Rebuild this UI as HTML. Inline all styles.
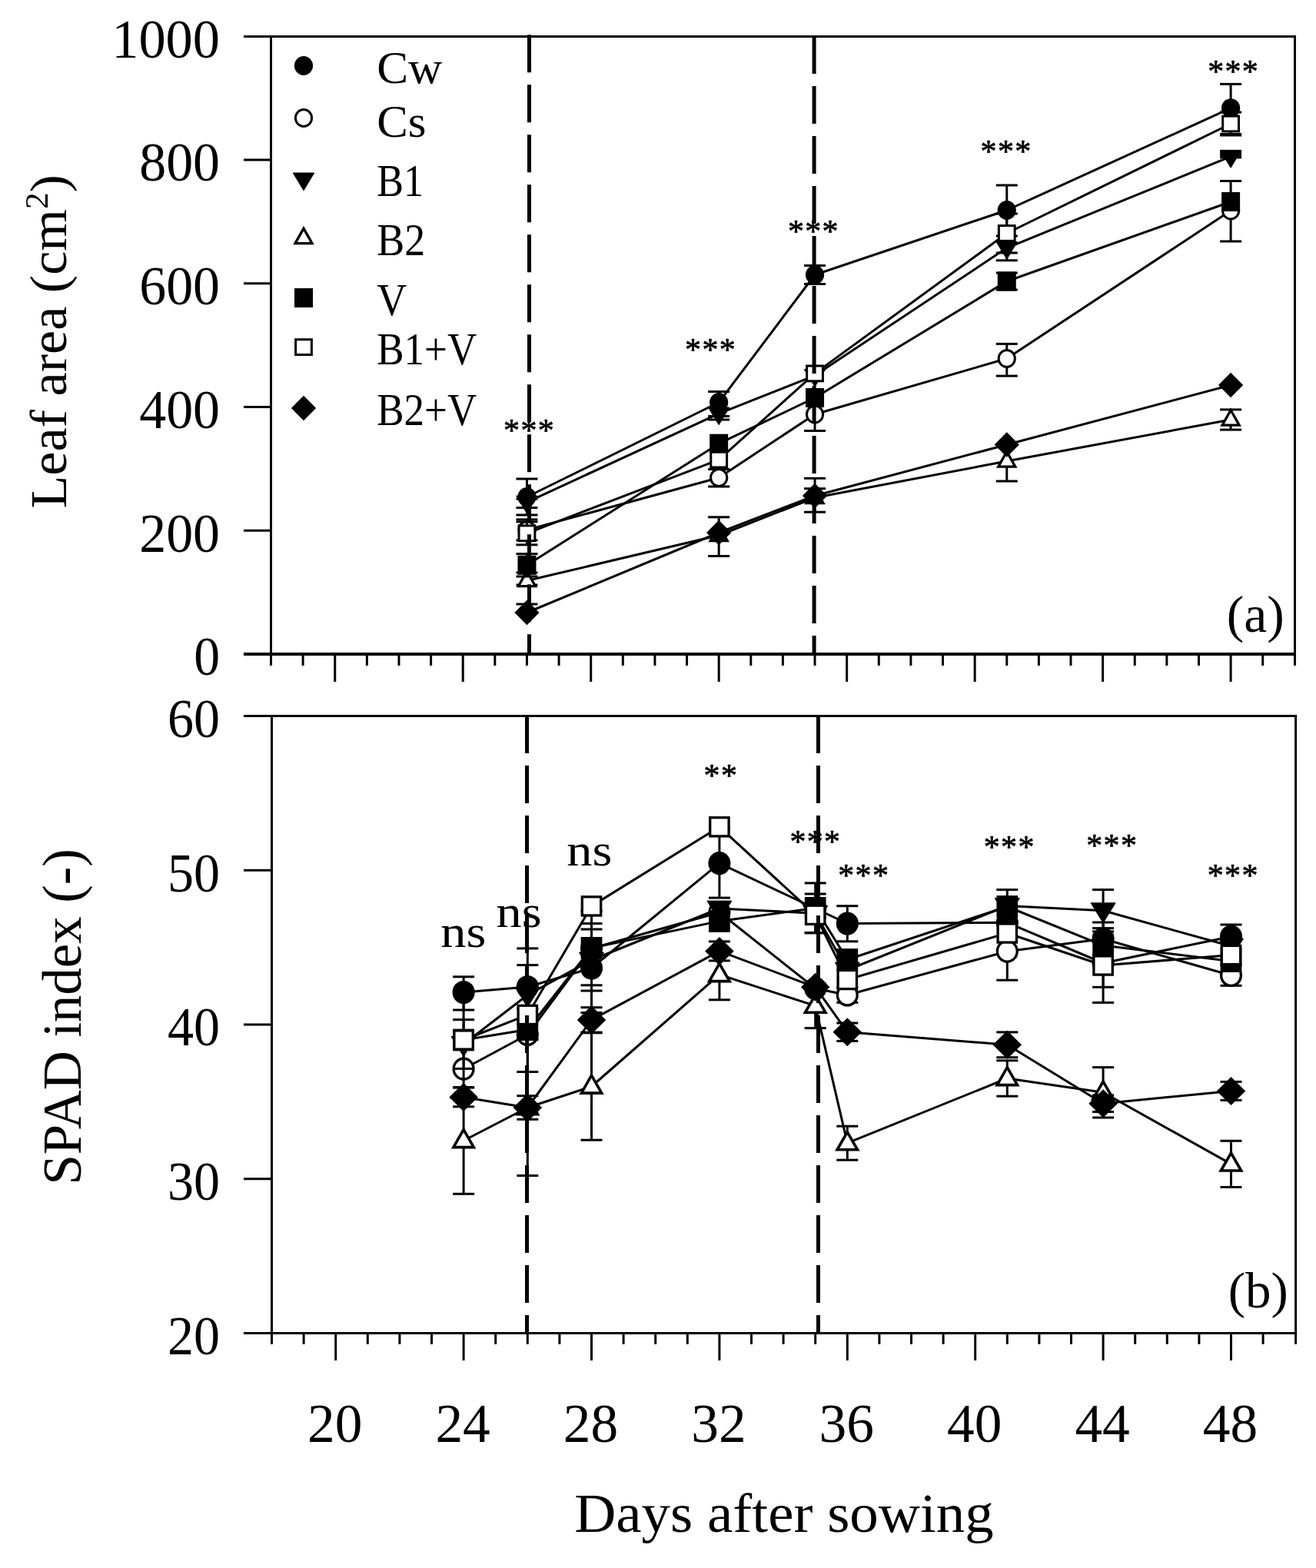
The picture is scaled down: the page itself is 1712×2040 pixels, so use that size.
<!DOCTYPE html>
<html><head><meta charset="utf-8"><title>Leaf area and SPAD index</title>
<style>
html,body{margin:0;padding:0;background:#fff;}
body{width:1712px;height:2040px;overflow:hidden;}
svg{display:block;}
svg text{font-family:"Liberation Serif",serif;fill:#000;}
</style></head><body>
<svg width="1712" height="2040" viewBox="0 0 1712 2040">
<rect width="1712" height="2040" fill="#fff"/>
<line x1="317.00" y1="47.40" x2="1686.00" y2="47.40" stroke="#000" stroke-width="3.0" />
<line x1="352.50" y1="47.40" x2="352.50" y2="851.00" stroke="#000" stroke-width="3.0" />
<line x1="1684.50" y1="47.40" x2="1684.50" y2="866.00" stroke="#000" stroke-width="3.0" />
<line x1="317.00" y1="851.00" x2="1686.00" y2="851.00" stroke="#000" stroke-width="4" />
<line x1="317.00" y1="208.12" x2="352.50" y2="208.12" stroke="#000" stroke-width="3.0" />
<line x1="317.00" y1="368.84" x2="352.50" y2="368.84" stroke="#000" stroke-width="3.0" />
<line x1="317.00" y1="529.56" x2="352.50" y2="529.56" stroke="#000" stroke-width="3.0" />
<line x1="317.00" y1="690.28" x2="352.50" y2="690.28" stroke="#000" stroke-width="3.0" />
<line x1="352.50" y1="851.00" x2="352.50" y2="866.00" stroke="#000" stroke-width="3.0" />
<line x1="394.12" y1="851.00" x2="394.12" y2="866.00" stroke="#000" stroke-width="3.0" />
<line x1="435.74" y1="851.00" x2="435.74" y2="887.00" stroke="#000" stroke-width="3.0" />
<line x1="477.36" y1="851.00" x2="477.36" y2="866.00" stroke="#000" stroke-width="3.0" />
<line x1="518.98" y1="851.00" x2="518.98" y2="866.00" stroke="#000" stroke-width="3.0" />
<line x1="560.60" y1="851.00" x2="560.60" y2="866.00" stroke="#000" stroke-width="3.0" />
<line x1="602.22" y1="851.00" x2="602.22" y2="887.00" stroke="#000" stroke-width="3.0" />
<line x1="643.84" y1="851.00" x2="643.84" y2="866.00" stroke="#000" stroke-width="3.0" />
<line x1="685.46" y1="851.00" x2="685.46" y2="866.00" stroke="#000" stroke-width="3.0" />
<line x1="727.08" y1="851.00" x2="727.08" y2="866.00" stroke="#000" stroke-width="3.0" />
<line x1="768.70" y1="851.00" x2="768.70" y2="887.00" stroke="#000" stroke-width="3.0" />
<line x1="810.32" y1="851.00" x2="810.32" y2="866.00" stroke="#000" stroke-width="3.0" />
<line x1="851.94" y1="851.00" x2="851.94" y2="866.00" stroke="#000" stroke-width="3.0" />
<line x1="893.56" y1="851.00" x2="893.56" y2="866.00" stroke="#000" stroke-width="3.0" />
<line x1="935.18" y1="851.00" x2="935.18" y2="887.00" stroke="#000" stroke-width="3.0" />
<line x1="976.80" y1="851.00" x2="976.80" y2="866.00" stroke="#000" stroke-width="3.0" />
<line x1="1018.42" y1="851.00" x2="1018.42" y2="866.00" stroke="#000" stroke-width="3.0" />
<line x1="1060.04" y1="851.00" x2="1060.04" y2="866.00" stroke="#000" stroke-width="3.0" />
<line x1="1101.66" y1="851.00" x2="1101.66" y2="887.00" stroke="#000" stroke-width="3.0" />
<line x1="1143.28" y1="851.00" x2="1143.28" y2="866.00" stroke="#000" stroke-width="3.0" />
<line x1="1184.90" y1="851.00" x2="1184.90" y2="866.00" stroke="#000" stroke-width="3.0" />
<line x1="1226.52" y1="851.00" x2="1226.52" y2="866.00" stroke="#000" stroke-width="3.0" />
<line x1="1268.14" y1="851.00" x2="1268.14" y2="887.00" stroke="#000" stroke-width="3.0" />
<line x1="1309.76" y1="851.00" x2="1309.76" y2="866.00" stroke="#000" stroke-width="3.0" />
<line x1="1351.38" y1="851.00" x2="1351.38" y2="866.00" stroke="#000" stroke-width="3.0" />
<line x1="1393.00" y1="851.00" x2="1393.00" y2="866.00" stroke="#000" stroke-width="3.0" />
<line x1="1434.62" y1="851.00" x2="1434.62" y2="887.00" stroke="#000" stroke-width="3.0" />
<line x1="1476.24" y1="851.00" x2="1476.24" y2="866.00" stroke="#000" stroke-width="3.0" />
<line x1="1517.86" y1="851.00" x2="1517.86" y2="866.00" stroke="#000" stroke-width="3.0" />
<line x1="1559.48" y1="851.00" x2="1559.48" y2="866.00" stroke="#000" stroke-width="3.0" />
<line x1="1601.10" y1="851.00" x2="1601.10" y2="887.00" stroke="#000" stroke-width="3.0" />
<line x1="1642.72" y1="851.00" x2="1642.72" y2="866.00" stroke="#000" stroke-width="3.0" />
<text transform="translate(286 74.7) scale(0.967 1)" font-size="72.8" text-anchor="end">1000</text>
<text transform="translate(286 235.4) scale(0.96 1)" font-size="72.8" text-anchor="end">800</text>
<text transform="translate(286 396.1) scale(0.96 1)" font-size="72.8" text-anchor="end">600</text>
<text transform="translate(286 556.9) scale(0.96 1)" font-size="72.8" text-anchor="end">400</text>
<text transform="translate(286 717.6) scale(0.96 1)" font-size="72.8" text-anchor="end">200</text>
<text transform="translate(286 878.3) scale(0.93 1)" font-size="72.8" text-anchor="end">0</text>
<polyline points="685.46,646.50 935.18,523.50 1060.04,357.50 1309.76,273.50 1601.10,140.70" fill="none" stroke="#000" stroke-width="3.0" stroke-linejoin="round"/>
<line x1="685.46" y1="646.50" x2="685.46" y2="623.00" stroke="#000" stroke-width="3.0" />
<line x1="671.46" y1="623.00" x2="699.46" y2="623.00" stroke="#000" stroke-width="3.0" />
<line x1="685.46" y1="646.50" x2="685.46" y2="670.00" stroke="#000" stroke-width="3.0" />
<line x1="671.46" y1="670.00" x2="699.46" y2="670.00" stroke="#000" stroke-width="3.0" />
<line x1="935.18" y1="523.50" x2="935.18" y2="509.50" stroke="#000" stroke-width="3.0" />
<line x1="921.18" y1="509.50" x2="949.18" y2="509.50" stroke="#000" stroke-width="3.0" />
<line x1="935.18" y1="523.50" x2="935.18" y2="541.50" stroke="#000" stroke-width="3.0" />
<line x1="921.18" y1="541.50" x2="949.18" y2="541.50" stroke="#000" stroke-width="3.0" />
<line x1="1060.04" y1="357.50" x2="1060.04" y2="345.50" stroke="#000" stroke-width="3.0" />
<line x1="1046.04" y1="345.50" x2="1074.04" y2="345.50" stroke="#000" stroke-width="3.0" />
<line x1="1060.04" y1="357.50" x2="1060.04" y2="369.50" stroke="#000" stroke-width="3.0" />
<line x1="1046.04" y1="369.50" x2="1074.04" y2="369.50" stroke="#000" stroke-width="3.0" />
<line x1="1309.76" y1="273.50" x2="1309.76" y2="241.00" stroke="#000" stroke-width="3.0" />
<line x1="1295.76" y1="241.00" x2="1323.76" y2="241.00" stroke="#000" stroke-width="3.0" />
<line x1="1309.76" y1="273.50" x2="1309.76" y2="307.00" stroke="#000" stroke-width="3.0" />
<line x1="1295.76" y1="307.00" x2="1323.76" y2="307.00" stroke="#000" stroke-width="3.0" />
<line x1="1601.10" y1="140.70" x2="1601.10" y2="109.40" stroke="#000" stroke-width="3.0" />
<line x1="1587.10" y1="109.40" x2="1615.10" y2="109.40" stroke="#000" stroke-width="3.0" />
<line x1="1601.10" y1="140.70" x2="1601.10" y2="174.50" stroke="#000" stroke-width="3.0" />
<line x1="1587.10" y1="174.50" x2="1615.10" y2="174.50" stroke="#000" stroke-width="3.0" />
<ellipse cx="685.46" cy="646.50" rx="12.10" ry="12.50" fill="#000"/>
<ellipse cx="935.18" cy="523.50" rx="12.10" ry="12.50" fill="#000"/>
<ellipse cx="1060.04" cy="357.50" rx="12.10" ry="12.50" fill="#000"/>
<ellipse cx="1309.76" cy="273.50" rx="12.10" ry="12.50" fill="#000"/>
<ellipse cx="1601.10" cy="140.70" rx="12.10" ry="12.50" fill="#000"/>
<polyline points="685.46,689.40 935.18,621.50 1060.04,539.00 1309.76,466.50 1601.10,274.00" fill="none" stroke="#000" stroke-width="3.0" stroke-linejoin="round"/>
<line x1="685.46" y1="689.40" x2="685.46" y2="675.90" stroke="#000" stroke-width="3.0" />
<line x1="671.46" y1="675.90" x2="699.46" y2="675.90" stroke="#000" stroke-width="3.0" />
<line x1="685.46" y1="689.40" x2="685.46" y2="702.90" stroke="#000" stroke-width="3.0" />
<line x1="671.46" y1="702.90" x2="699.46" y2="702.90" stroke="#000" stroke-width="3.0" />
<line x1="935.18" y1="621.50" x2="935.18" y2="610.50" stroke="#000" stroke-width="3.0" />
<line x1="921.18" y1="610.50" x2="949.18" y2="610.50" stroke="#000" stroke-width="3.0" />
<line x1="935.18" y1="621.50" x2="935.18" y2="633.00" stroke="#000" stroke-width="3.0" />
<line x1="921.18" y1="633.00" x2="949.18" y2="633.00" stroke="#000" stroke-width="3.0" />
<line x1="1060.04" y1="539.00" x2="1060.04" y2="560.50" stroke="#000" stroke-width="3.0" />
<line x1="1046.04" y1="560.50" x2="1074.04" y2="560.50" stroke="#000" stroke-width="3.0" />
<line x1="1309.76" y1="466.50" x2="1309.76" y2="447.40" stroke="#000" stroke-width="3.0" />
<line x1="1295.76" y1="447.40" x2="1323.76" y2="447.40" stroke="#000" stroke-width="3.0" />
<line x1="1309.76" y1="466.50" x2="1309.76" y2="489.10" stroke="#000" stroke-width="3.0" />
<line x1="1295.76" y1="489.10" x2="1323.76" y2="489.10" stroke="#000" stroke-width="3.0" />
<line x1="1601.10" y1="274.00" x2="1601.10" y2="314.00" stroke="#000" stroke-width="3.0" />
<line x1="1587.10" y1="314.00" x2="1615.10" y2="314.00" stroke="#000" stroke-width="3.0" />
<ellipse cx="685.46" cy="689.40" rx="10.60" ry="11.00" fill="#fff" stroke="#000" stroke-width="3.0"/>
<ellipse cx="935.18" cy="621.50" rx="10.60" ry="11.00" fill="#fff" stroke="#000" stroke-width="3.0"/>
<ellipse cx="1060.04" cy="539.00" rx="10.60" ry="11.00" fill="#fff" stroke="#000" stroke-width="3.0"/>
<ellipse cx="1309.76" cy="466.50" rx="10.60" ry="11.00" fill="#fff" stroke="#000" stroke-width="3.0"/>
<ellipse cx="1601.10" cy="274.00" rx="10.60" ry="11.00" fill="#fff" stroke="#000" stroke-width="3.0"/>
<polyline points="685.46,653.30 935.18,538.10 1060.04,488.60 1309.76,322.60 1601.10,203.60" fill="none" stroke="#000" stroke-width="3.0" stroke-linejoin="round"/>
<line x1="685.46" y1="653.30" x2="685.46" y2="649.10" stroke="#000" stroke-width="3.0" />
<line x1="671.46" y1="649.10" x2="699.46" y2="649.10" stroke="#000" stroke-width="3.0" />
<line x1="685.46" y1="653.30" x2="685.46" y2="660.60" stroke="#000" stroke-width="3.0" />
<line x1="671.46" y1="660.60" x2="699.46" y2="660.60" stroke="#000" stroke-width="3.0" />
<line x1="935.18" y1="538.10" x2="935.18" y2="546.00" stroke="#000" stroke-width="3.0" />
<line x1="921.18" y1="546.00" x2="949.18" y2="546.00" stroke="#000" stroke-width="3.0" />
<line x1="1309.76" y1="322.60" x2="1309.76" y2="338.80" stroke="#000" stroke-width="3.0" />
<line x1="1295.76" y1="338.80" x2="1323.76" y2="338.80" stroke="#000" stroke-width="3.0" />
<line x1="1601.10" y1="203.60" x2="1601.10" y2="196.40" stroke="#000" stroke-width="3.0" />
<line x1="1587.10" y1="196.40" x2="1615.10" y2="196.40" stroke="#000" stroke-width="3.0" />
<line x1="1601.10" y1="203.60" x2="1601.10" y2="204.90" stroke="#000" stroke-width="3.0" />
<line x1="1587.10" y1="204.90" x2="1615.10" y2="204.90" stroke="#000" stroke-width="3.0" />
<line x1="1587.10" y1="199.40" x2="1615.10" y2="199.40" stroke="#000" stroke-width="3.0" />
<line x1="1587.10" y1="202.20" x2="1615.10" y2="202.20" stroke="#000" stroke-width="3.0" />
<polygon points="671.71,645.20 699.21,645.20 685.46,667.95" fill="#000" stroke="#000" stroke-width="1" stroke-linejoin="round"/>
<polygon points="921.43,530.00 948.93,530.00 935.18,552.75" fill="#000" stroke="#000" stroke-width="1" stroke-linejoin="round"/>
<polygon points="1046.29,480.50 1073.79,480.50 1060.04,503.25" fill="#000" stroke="#000" stroke-width="1" stroke-linejoin="round"/>
<polygon points="1296.01,314.50 1323.51,314.50 1309.76,337.25" fill="#000" stroke="#000" stroke-width="1" stroke-linejoin="round"/>
<polygon points="1587.35,195.50 1614.85,195.50 1601.10,218.25" fill="#000" stroke="#000" stroke-width="1" stroke-linejoin="round"/>
<polyline points="685.46,755.50 935.18,696.50 1060.04,647.50 1309.76,600.00 1601.10,546.00" fill="none" stroke="#000" stroke-width="3.0" stroke-linejoin="round"/>
<line x1="685.46" y1="755.50" x2="685.46" y2="745.00" stroke="#000" stroke-width="3.0" />
<line x1="671.46" y1="745.00" x2="699.46" y2="745.00" stroke="#000" stroke-width="3.0" />
<line x1="685.46" y1="755.50" x2="685.46" y2="761.00" stroke="#000" stroke-width="3.0" />
<line x1="671.46" y1="761.00" x2="699.46" y2="761.00" stroke="#000" stroke-width="3.0" />
<line x1="935.18" y1="696.50" x2="935.18" y2="723.50" stroke="#000" stroke-width="3.0" />
<line x1="921.18" y1="723.50" x2="949.18" y2="723.50" stroke="#000" stroke-width="3.0" />
<line x1="1060.04" y1="647.50" x2="1060.04" y2="635.70" stroke="#000" stroke-width="3.0" />
<line x1="1046.04" y1="635.70" x2="1074.04" y2="635.70" stroke="#000" stroke-width="3.0" />
<line x1="1309.76" y1="600.00" x2="1309.76" y2="626.00" stroke="#000" stroke-width="3.0" />
<line x1="1295.76" y1="626.00" x2="1323.76" y2="626.00" stroke="#000" stroke-width="3.0" />
<line x1="1601.10" y1="546.00" x2="1601.10" y2="532.90" stroke="#000" stroke-width="3.0" />
<line x1="1587.10" y1="532.90" x2="1615.10" y2="532.90" stroke="#000" stroke-width="3.0" />
<line x1="1601.10" y1="546.00" x2="1601.10" y2="559.10" stroke="#000" stroke-width="3.0" />
<line x1="1587.10" y1="559.10" x2="1615.10" y2="559.10" stroke="#000" stroke-width="3.0" />
<polygon points="674.46,762.60 696.46,762.60 685.46,743.00" fill="#fff" stroke="#000" stroke-width="3.3" stroke-linejoin="miter"/>
<polygon points="924.18,703.60 946.18,703.60 935.18,684.00" fill="#fff" stroke="#000" stroke-width="3.3" stroke-linejoin="miter"/>
<polygon points="1049.04,654.60 1071.04,654.60 1060.04,635.00" fill="#fff" stroke="#000" stroke-width="3.3" stroke-linejoin="miter"/>
<polygon points="1298.76,607.10 1320.76,607.10 1309.76,587.50" fill="#fff" stroke="#000" stroke-width="3.3" stroke-linejoin="miter"/>
<polygon points="1590.10,553.10 1612.10,553.10 1601.10,533.50" fill="#fff" stroke="#000" stroke-width="3.3" stroke-linejoin="miter"/>
<polyline points="685.46,735.30 935.18,577.20 1060.04,517.50 1309.76,366.00 1601.10,262.50" fill="none" stroke="#000" stroke-width="3.0" stroke-linejoin="round"/>
<line x1="685.46" y1="735.30" x2="685.46" y2="720.60" stroke="#000" stroke-width="3.0" />
<line x1="671.46" y1="720.60" x2="699.46" y2="720.60" stroke="#000" stroke-width="3.0" />
<line x1="685.46" y1="735.30" x2="685.46" y2="750.00" stroke="#000" stroke-width="3.0" />
<line x1="671.46" y1="750.00" x2="699.46" y2="750.00" stroke="#000" stroke-width="3.0" />
<line x1="1309.76" y1="366.00" x2="1309.76" y2="355.00" stroke="#000" stroke-width="3.0" />
<line x1="1295.76" y1="355.00" x2="1323.76" y2="355.00" stroke="#000" stroke-width="3.0" />
<line x1="1309.76" y1="366.00" x2="1309.76" y2="377.00" stroke="#000" stroke-width="3.0" />
<line x1="1295.76" y1="377.00" x2="1323.76" y2="377.00" stroke="#000" stroke-width="3.0" />
<line x1="1601.10" y1="262.50" x2="1601.10" y2="235.50" stroke="#000" stroke-width="3.0" />
<line x1="1587.10" y1="235.50" x2="1615.10" y2="235.50" stroke="#000" stroke-width="3.0" />
<rect x="673.46" y="722.80" width="24.00" height="25.00" fill="#000"/>
<rect x="923.18" y="564.70" width="24.00" height="25.00" fill="#000"/>
<rect x="1048.04" y="505.00" width="24.00" height="25.00" fill="#000"/>
<rect x="1297.76" y="353.50" width="24.00" height="25.00" fill="#000"/>
<rect x="1589.10" y="250.00" width="24.00" height="25.00" fill="#000"/>
<polyline points="685.46,693.80 935.18,598.10 1060.04,485.90 1309.76,303.50 1601.10,161.00" fill="none" stroke="#000" stroke-width="3.0" stroke-linejoin="round"/>
<line x1="685.46" y1="693.80" x2="685.46" y2="678.80" stroke="#000" stroke-width="3.0" />
<line x1="671.46" y1="678.80" x2="699.46" y2="678.80" stroke="#000" stroke-width="3.0" />
<line x1="685.46" y1="693.80" x2="685.46" y2="708.80" stroke="#000" stroke-width="3.0" />
<line x1="671.46" y1="708.80" x2="699.46" y2="708.80" stroke="#000" stroke-width="3.0" />
<line x1="1309.76" y1="303.50" x2="1309.76" y2="278.00" stroke="#000" stroke-width="3.0" />
<line x1="1295.76" y1="278.00" x2="1323.76" y2="278.00" stroke="#000" stroke-width="3.0" />
<line x1="1309.76" y1="303.50" x2="1309.76" y2="329.00" stroke="#000" stroke-width="3.0" />
<line x1="1295.76" y1="329.00" x2="1323.76" y2="329.00" stroke="#000" stroke-width="3.0" />
<line x1="1601.10" y1="161.00" x2="1601.10" y2="146.00" stroke="#000" stroke-width="3.0" />
<line x1="1587.10" y1="146.00" x2="1615.10" y2="146.00" stroke="#000" stroke-width="3.0" />
<line x1="1601.10" y1="161.00" x2="1601.10" y2="176.00" stroke="#000" stroke-width="3.0" />
<line x1="1587.10" y1="176.00" x2="1615.10" y2="176.00" stroke="#000" stroke-width="3.0" />
<rect x="675.06" y="683.90" width="20.80" height="19.80" fill="#fff" stroke="#000" stroke-width="3.0"/>
<rect x="924.78" y="588.20" width="20.80" height="19.80" fill="#fff" stroke="#000" stroke-width="3.0"/>
<rect x="1049.64" y="476.00" width="20.80" height="19.80" fill="#fff" stroke="#000" stroke-width="3.0"/>
<rect x="1299.36" y="293.60" width="20.80" height="19.80" fill="#fff" stroke="#000" stroke-width="3.0"/>
<rect x="1590.70" y="151.10" width="20.80" height="19.80" fill="#fff" stroke="#000" stroke-width="3.0"/>
<polyline points="685.46,797.00 935.18,693.00 1060.04,645.00 1309.76,578.50 1601.10,501.00" fill="none" stroke="#000" stroke-width="3.0" stroke-linejoin="round"/>
<line x1="685.46" y1="797.00" x2="685.46" y2="786.00" stroke="#000" stroke-width="3.0" />
<line x1="671.46" y1="786.00" x2="699.46" y2="786.00" stroke="#000" stroke-width="3.0" />
<line x1="935.18" y1="693.00" x2="935.18" y2="672.80" stroke="#000" stroke-width="3.0" />
<line x1="921.18" y1="672.80" x2="949.18" y2="672.80" stroke="#000" stroke-width="3.0" />
<line x1="1060.04" y1="645.00" x2="1060.04" y2="622.30" stroke="#000" stroke-width="3.0" />
<line x1="1046.04" y1="622.30" x2="1074.04" y2="622.30" stroke="#000" stroke-width="3.0" />
<line x1="1060.04" y1="645.00" x2="1060.04" y2="666.20" stroke="#000" stroke-width="3.0" />
<line x1="1046.04" y1="666.20" x2="1074.04" y2="666.20" stroke="#000" stroke-width="3.0" />
<polygon points="669.36,797.00 685.46,780.75 701.56,797.00 685.46,813.25" fill="#000"/>
<polygon points="919.08,693.00 935.18,676.75 951.28,693.00 935.18,709.25" fill="#000"/>
<polygon points="1043.94,645.00 1060.04,628.75 1076.14,645.00 1060.04,661.25" fill="#000"/>
<polygon points="1293.66,578.50 1309.76,562.25 1325.86,578.50 1309.76,594.75" fill="#000"/>
<polygon points="1585.00,501.00 1601.10,484.75 1617.20,501.00 1601.10,517.25" fill="#000"/>
<line x1="688.5" y1="45.2" x2="688.5" y2="851.0" stroke="#000" stroke-width="5" stroke-dasharray="49 16"/>
<line x1="1059.1" y1="47.1" x2="1059.1" y2="851.0" stroke="#000" stroke-width="5" stroke-dasharray="49 16"/>
<text transform="translate(655.1 574.1)" font-size="42" letter-spacing="1.3" stroke="#000" stroke-width="0.7" stroke-linejoin="round">***</text>
<text transform="translate(891.1 468.9)" font-size="42" letter-spacing="1.3" stroke="#000" stroke-width="0.7" stroke-linejoin="round">***</text>
<text transform="translate(1025.0 314.9)" font-size="42" letter-spacing="1.3" stroke="#000" stroke-width="0.7" stroke-linejoin="round">***</text>
<text transform="translate(1275.6 210.6)" font-size="42" letter-spacing="1.3" stroke="#000" stroke-width="0.7" stroke-linejoin="round">***</text>
<text transform="translate(1571.2 106.8)" font-size="42" letter-spacing="1.3" stroke="#000" stroke-width="0.7" stroke-linejoin="round">***</text>
<text transform="translate(1595.8 822) scale(1.005 1)" font-size="67.3">(a)</text>
<ellipse cx="395.00" cy="85.50" rx="12.10" ry="12.50" fill="#000"/>
<text transform="translate(490.2 108.4) scale(1.0313 1)" font-size="59.5">Cw</text>
<ellipse cx="395.00" cy="153.50" rx="10.60" ry="11.00" fill="#fff" stroke="#000" stroke-width="3.0"/>
<text transform="translate(490.2 178.0) scale(1.0216 1)" font-size="59.5">Cs</text>
<polygon points="381.25,225.00 408.75,225.00 395.00,247.75" fill="#000" stroke="#000" stroke-width="1" stroke-linejoin="round"/>
<text transform="translate(490.2 255) scale(0.8773 1)" font-size="59.5">B1</text>
<polygon points="384.00,316.70 406.00,316.70 395.00,297.10" fill="#fff" stroke="#000" stroke-width="3.3" stroke-linejoin="miter"/>
<text transform="translate(490.2 331.8) scale(0.9066 1)" font-size="59.5">B2</text>
<rect x="383.00" y="375.00" width="24.00" height="25.00" fill="#000"/>
<text transform="translate(490.2 410) scale(0.9066 1)" font-size="59.5">V</text>
<rect x="384.60" y="441.70" width="20.80" height="19.80" fill="#fff" stroke="#000" stroke-width="3.0"/>
<text transform="translate(490.2 474.2) scale(0.891 1)" font-size="59.5">B1+V</text>
<polygon points="378.90,531.00 395.00,514.75 411.10,531.00 395.00,547.25" fill="#000"/>
<text transform="translate(490.2 552.6) scale(0.891 1)" font-size="59.5">B2+V</text>
<line x1="317.00" y1="931.40" x2="1687.10" y2="931.40" stroke="#000" stroke-width="3.0" />
<line x1="353.50" y1="931.40" x2="353.50" y2="1734.50" stroke="#000" stroke-width="3.0" />
<line x1="1685.60" y1="931.40" x2="1685.60" y2="1748.80" stroke="#000" stroke-width="3.0" />
<line x1="317.00" y1="1734.50" x2="1687.10" y2="1734.50" stroke="#000" stroke-width="3.2" />
<line x1="317.00" y1="1132.17" x2="353.50" y2="1132.17" stroke="#000" stroke-width="3.0" />
<line x1="317.00" y1="1332.95" x2="353.50" y2="1332.95" stroke="#000" stroke-width="3.0" />
<line x1="317.00" y1="1533.72" x2="353.50" y2="1533.72" stroke="#000" stroke-width="3.0" />
<line x1="353.50" y1="1734.50" x2="353.50" y2="1748.80" stroke="#000" stroke-width="3.0" />
<line x1="395.10" y1="1734.50" x2="395.10" y2="1748.80" stroke="#000" stroke-width="3.0" />
<line x1="436.70" y1="1734.50" x2="436.70" y2="1770.00" stroke="#000" stroke-width="3.0" />
<line x1="478.30" y1="1734.50" x2="478.30" y2="1748.80" stroke="#000" stroke-width="3.0" />
<line x1="519.90" y1="1734.50" x2="519.90" y2="1748.80" stroke="#000" stroke-width="3.0" />
<line x1="561.50" y1="1734.50" x2="561.50" y2="1748.80" stroke="#000" stroke-width="3.0" />
<line x1="603.10" y1="1734.50" x2="603.10" y2="1770.00" stroke="#000" stroke-width="3.0" />
<line x1="644.70" y1="1734.50" x2="644.70" y2="1748.80" stroke="#000" stroke-width="3.0" />
<line x1="686.30" y1="1734.50" x2="686.30" y2="1748.80" stroke="#000" stroke-width="3.0" />
<line x1="727.90" y1="1734.50" x2="727.90" y2="1748.80" stroke="#000" stroke-width="3.0" />
<line x1="769.50" y1="1734.50" x2="769.50" y2="1770.00" stroke="#000" stroke-width="3.0" />
<line x1="811.10" y1="1734.50" x2="811.10" y2="1748.80" stroke="#000" stroke-width="3.0" />
<line x1="852.70" y1="1734.50" x2="852.70" y2="1748.80" stroke="#000" stroke-width="3.0" />
<line x1="894.30" y1="1734.50" x2="894.30" y2="1748.80" stroke="#000" stroke-width="3.0" />
<line x1="935.90" y1="1734.50" x2="935.90" y2="1770.00" stroke="#000" stroke-width="3.0" />
<line x1="977.50" y1="1734.50" x2="977.50" y2="1748.80" stroke="#000" stroke-width="3.0" />
<line x1="1019.10" y1="1734.50" x2="1019.10" y2="1748.80" stroke="#000" stroke-width="3.0" />
<line x1="1060.70" y1="1734.50" x2="1060.70" y2="1748.80" stroke="#000" stroke-width="3.0" />
<line x1="1102.30" y1="1734.50" x2="1102.30" y2="1770.00" stroke="#000" stroke-width="3.0" />
<line x1="1143.90" y1="1734.50" x2="1143.90" y2="1748.80" stroke="#000" stroke-width="3.0" />
<line x1="1185.50" y1="1734.50" x2="1185.50" y2="1748.80" stroke="#000" stroke-width="3.0" />
<line x1="1227.10" y1="1734.50" x2="1227.10" y2="1748.80" stroke="#000" stroke-width="3.0" />
<line x1="1268.70" y1="1734.50" x2="1268.70" y2="1770.00" stroke="#000" stroke-width="3.0" />
<line x1="1310.30" y1="1734.50" x2="1310.30" y2="1748.80" stroke="#000" stroke-width="3.0" />
<line x1="1351.90" y1="1734.50" x2="1351.90" y2="1748.80" stroke="#000" stroke-width="3.0" />
<line x1="1393.50" y1="1734.50" x2="1393.50" y2="1748.80" stroke="#000" stroke-width="3.0" />
<line x1="1435.10" y1="1734.50" x2="1435.10" y2="1770.00" stroke="#000" stroke-width="3.0" />
<line x1="1476.70" y1="1734.50" x2="1476.70" y2="1748.80" stroke="#000" stroke-width="3.0" />
<line x1="1518.30" y1="1734.50" x2="1518.30" y2="1748.80" stroke="#000" stroke-width="3.0" />
<line x1="1559.90" y1="1734.50" x2="1559.90" y2="1748.80" stroke="#000" stroke-width="3.0" />
<line x1="1601.50" y1="1734.50" x2="1601.50" y2="1770.00" stroke="#000" stroke-width="3.0" />
<line x1="1643.10" y1="1734.50" x2="1643.10" y2="1748.80" stroke="#000" stroke-width="3.0" />
<text transform="translate(286 958.7) scale(0.935 1)" font-size="72.8" text-anchor="end">60</text>
<text transform="translate(286 1159.5) scale(0.935 1)" font-size="72.8" text-anchor="end">50</text>
<text transform="translate(286 1360.2) scale(0.935 1)" font-size="72.8" text-anchor="end">40</text>
<text transform="translate(286 1561.0) scale(0.935 1)" font-size="72.8" text-anchor="end">30</text>
<text transform="translate(286 1761.8) scale(0.935 1)" font-size="72.8" text-anchor="end">20</text>
<polyline points="603.10,1291.00 686.30,1284.00 769.50,1259.50 935.90,1123.10 1060.70,1182.00 1102.30,1201.50 1310.30,1200.30 1435.10,1253.00 1601.50,1218.50" fill="none" stroke="#000" stroke-width="3.0" stroke-linejoin="round"/>
<line x1="603.10" y1="1291.00" x2="603.10" y2="1270.80" stroke="#000" stroke-width="3.0" />
<line x1="589.10" y1="1270.80" x2="617.10" y2="1270.80" stroke="#000" stroke-width="3.0" />
<line x1="603.10" y1="1291.00" x2="603.10" y2="1314.00" stroke="#000" stroke-width="3.0" />
<line x1="589.10" y1="1314.00" x2="617.10" y2="1314.00" stroke="#000" stroke-width="3.0" />
<line x1="686.30" y1="1284.00" x2="686.30" y2="1255.60" stroke="#000" stroke-width="3.0" />
<line x1="672.30" y1="1255.60" x2="700.30" y2="1255.60" stroke="#000" stroke-width="3.0" />
<line x1="686.30" y1="1284.00" x2="686.30" y2="1312.40" stroke="#000" stroke-width="3.0" />
<line x1="672.30" y1="1312.40" x2="700.30" y2="1312.40" stroke="#000" stroke-width="3.0" />
<line x1="769.50" y1="1259.50" x2="769.50" y2="1201.50" stroke="#000" stroke-width="3.0" />
<line x1="755.50" y1="1201.50" x2="783.50" y2="1201.50" stroke="#000" stroke-width="3.0" />
<line x1="769.50" y1="1259.50" x2="769.50" y2="1317.50" stroke="#000" stroke-width="3.0" />
<line x1="755.50" y1="1317.50" x2="783.50" y2="1317.50" stroke="#000" stroke-width="3.0" />
<line x1="935.90" y1="1123.10" x2="935.90" y2="1078.10" stroke="#000" stroke-width="3.0" />
<line x1="921.90" y1="1078.10" x2="949.90" y2="1078.10" stroke="#000" stroke-width="3.0" />
<line x1="935.90" y1="1123.10" x2="935.90" y2="1168.10" stroke="#000" stroke-width="3.0" />
<line x1="921.90" y1="1168.10" x2="949.90" y2="1168.10" stroke="#000" stroke-width="3.0" />
<line x1="1102.30" y1="1201.50" x2="1102.30" y2="1178.70" stroke="#000" stroke-width="3.0" />
<line x1="1088.30" y1="1178.70" x2="1116.30" y2="1178.70" stroke="#000" stroke-width="3.0" />
<line x1="1102.30" y1="1201.50" x2="1102.30" y2="1224.80" stroke="#000" stroke-width="3.0" />
<line x1="1088.30" y1="1224.80" x2="1116.30" y2="1224.80" stroke="#000" stroke-width="3.0" />
<line x1="1435.10" y1="1253.00" x2="1435.10" y2="1221.70" stroke="#000" stroke-width="3.0" />
<line x1="1421.10" y1="1221.70" x2="1449.10" y2="1221.70" stroke="#000" stroke-width="3.0" />
<line x1="1435.10" y1="1253.00" x2="1435.10" y2="1284.30" stroke="#000" stroke-width="3.0" />
<line x1="1421.10" y1="1284.30" x2="1449.10" y2="1284.30" stroke="#000" stroke-width="3.0" />
<line x1="1601.50" y1="1218.50" x2="1601.50" y2="1203.00" stroke="#000" stroke-width="3.0" />
<line x1="1587.50" y1="1203.00" x2="1615.50" y2="1203.00" stroke="#000" stroke-width="3.0" />
<line x1="1601.50" y1="1218.50" x2="1601.50" y2="1234.00" stroke="#000" stroke-width="3.0" />
<line x1="1587.50" y1="1234.00" x2="1615.50" y2="1234.00" stroke="#000" stroke-width="3.0" />
<ellipse cx="603.10" cy="1291.00" rx="14.55" ry="15.10" fill="#000"/>
<ellipse cx="686.30" cy="1284.00" rx="14.55" ry="15.10" fill="#000"/>
<ellipse cx="769.50" cy="1259.50" rx="14.55" ry="15.10" fill="#000"/>
<ellipse cx="935.90" cy="1123.10" rx="14.55" ry="15.10" fill="#000"/>
<ellipse cx="1060.70" cy="1182.00" rx="14.55" ry="15.10" fill="#000"/>
<ellipse cx="1102.30" cy="1201.50" rx="14.55" ry="15.10" fill="#000"/>
<ellipse cx="1310.30" cy="1200.30" rx="14.55" ry="15.10" fill="#000"/>
<ellipse cx="1435.10" cy="1253.00" rx="14.55" ry="15.10" fill="#000"/>
<ellipse cx="1601.50" cy="1218.50" rx="14.55" ry="15.10" fill="#000"/>
<polyline points="603.10,1390.70 686.30,1346.00 769.50,1234.00 935.90,1187.00 1060.70,1286.00 1102.30,1294.50 1310.30,1237.70 1435.10,1221.50 1601.50,1269.00" fill="none" stroke="#000" stroke-width="3.0" stroke-linejoin="round"/>
<line x1="1102.30" y1="1294.50" x2="1102.30" y2="1284.70" stroke="#000" stroke-width="3.0" />
<line x1="1088.30" y1="1284.70" x2="1116.30" y2="1284.70" stroke="#000" stroke-width="3.0" />
<line x1="1102.30" y1="1294.50" x2="1102.30" y2="1304.30" stroke="#000" stroke-width="3.0" />
<line x1="1088.30" y1="1304.30" x2="1116.30" y2="1304.30" stroke="#000" stroke-width="3.0" />
<line x1="1310.30" y1="1237.70" x2="1310.30" y2="1200.20" stroke="#000" stroke-width="3.0" />
<line x1="1296.30" y1="1200.20" x2="1324.30" y2="1200.20" stroke="#000" stroke-width="3.0" />
<line x1="1310.30" y1="1237.70" x2="1310.30" y2="1275.20" stroke="#000" stroke-width="3.0" />
<line x1="1296.30" y1="1275.20" x2="1324.30" y2="1275.20" stroke="#000" stroke-width="3.0" />
<line x1="1435.10" y1="1221.50" x2="1435.10" y2="1200.00" stroke="#000" stroke-width="3.0" />
<line x1="1421.10" y1="1200.00" x2="1449.10" y2="1200.00" stroke="#000" stroke-width="3.0" />
<line x1="1435.10" y1="1221.50" x2="1435.10" y2="1243.00" stroke="#000" stroke-width="3.0" />
<line x1="1421.10" y1="1243.00" x2="1449.10" y2="1243.00" stroke="#000" stroke-width="3.0" />
<line x1="1601.50" y1="1269.00" x2="1601.50" y2="1255.70" stroke="#000" stroke-width="3.0" />
<line x1="1587.50" y1="1255.70" x2="1615.50" y2="1255.70" stroke="#000" stroke-width="3.0" />
<line x1="1601.50" y1="1269.00" x2="1601.50" y2="1282.30" stroke="#000" stroke-width="3.0" />
<line x1="1587.50" y1="1282.30" x2="1615.50" y2="1282.30" stroke="#000" stroke-width="3.0" />
<ellipse cx="603.10" cy="1390.70" rx="12.90" ry="13.45" fill="#fff" stroke="#000" stroke-width="3.3"/>
<ellipse cx="686.30" cy="1346.00" rx="12.90" ry="13.45" fill="#fff" stroke="#000" stroke-width="3.3"/>
<ellipse cx="769.50" cy="1234.00" rx="12.90" ry="13.45" fill="#fff" stroke="#000" stroke-width="3.3"/>
<ellipse cx="935.90" cy="1187.00" rx="12.90" ry="13.45" fill="#fff" stroke="#000" stroke-width="3.3"/>
<ellipse cx="1060.70" cy="1286.00" rx="12.90" ry="13.45" fill="#fff" stroke="#000" stroke-width="3.3"/>
<ellipse cx="1102.30" cy="1294.50" rx="12.90" ry="13.45" fill="#fff" stroke="#000" stroke-width="3.3"/>
<ellipse cx="1310.30" cy="1237.70" rx="12.90" ry="13.45" fill="#fff" stroke="#000" stroke-width="3.3"/>
<ellipse cx="1435.10" cy="1221.50" rx="14.55" ry="15.10" fill="#000"/>
<ellipse cx="1601.50" cy="1269.00" rx="12.90" ry="13.45" fill="#fff" stroke="#000" stroke-width="3.3"/>
<polyline points="603.10,1358.50 686.30,1294.50 769.50,1249.00 935.90,1182.00 1060.70,1188.20 1102.30,1262.00 1310.30,1178.50 1435.10,1184.70 1601.50,1231.00" fill="none" stroke="#000" stroke-width="3.0" stroke-linejoin="round"/>
<line x1="603.10" y1="1358.50" x2="603.10" y2="1326.60" stroke="#000" stroke-width="3.0" />
<line x1="589.10" y1="1326.60" x2="617.10" y2="1326.60" stroke="#000" stroke-width="3.0" />
<line x1="603.10" y1="1358.50" x2="603.10" y2="1390.40" stroke="#000" stroke-width="3.0" />
<line x1="589.10" y1="1390.40" x2="617.10" y2="1390.40" stroke="#000" stroke-width="3.0" />
<line x1="686.30" y1="1294.50" x2="686.30" y2="1233.90" stroke="#000" stroke-width="3.0" />
<line x1="672.30" y1="1233.90" x2="700.30" y2="1233.90" stroke="#000" stroke-width="3.0" />
<line x1="686.30" y1="1294.50" x2="686.30" y2="1352.50" stroke="#000" stroke-width="3.0" />
<line x1="672.30" y1="1352.50" x2="700.30" y2="1352.50" stroke="#000" stroke-width="3.0" />
<line x1="769.50" y1="1249.00" x2="769.50" y2="1209.00" stroke="#000" stroke-width="3.0" />
<line x1="755.50" y1="1209.00" x2="783.50" y2="1209.00" stroke="#000" stroke-width="3.0" />
<line x1="769.50" y1="1249.00" x2="769.50" y2="1289.00" stroke="#000" stroke-width="3.0" />
<line x1="755.50" y1="1289.00" x2="783.50" y2="1289.00" stroke="#000" stroke-width="3.0" />
<line x1="1060.70" y1="1188.20" x2="1060.70" y2="1163.00" stroke="#000" stroke-width="3.0" />
<line x1="1046.70" y1="1163.00" x2="1074.70" y2="1163.00" stroke="#000" stroke-width="3.0" />
<line x1="1060.70" y1="1188.20" x2="1060.70" y2="1213.40" stroke="#000" stroke-width="3.0" />
<line x1="1046.70" y1="1213.40" x2="1074.70" y2="1213.40" stroke="#000" stroke-width="3.0" />
<line x1="1310.30" y1="1178.50" x2="1310.30" y2="1157.50" stroke="#000" stroke-width="3.0" />
<line x1="1296.30" y1="1157.50" x2="1324.30" y2="1157.50" stroke="#000" stroke-width="3.0" />
<line x1="1310.30" y1="1178.50" x2="1310.30" y2="1199.50" stroke="#000" stroke-width="3.0" />
<line x1="1296.30" y1="1199.50" x2="1324.30" y2="1199.50" stroke="#000" stroke-width="3.0" />
<line x1="1435.10" y1="1184.70" x2="1435.10" y2="1157.50" stroke="#000" stroke-width="3.0" />
<line x1="1421.10" y1="1157.50" x2="1449.10" y2="1157.50" stroke="#000" stroke-width="3.0" />
<line x1="1435.10" y1="1184.70" x2="1435.10" y2="1211.90" stroke="#000" stroke-width="3.0" />
<line x1="1421.10" y1="1211.90" x2="1449.10" y2="1211.90" stroke="#000" stroke-width="3.0" />
<polygon points="587.10,1348.60 619.10,1348.60 603.10,1374.50" fill="#000" stroke="#000" stroke-width="1" stroke-linejoin="round"/>
<polygon points="670.30,1284.60 702.30,1284.60 686.30,1310.50" fill="#000" stroke="#000" stroke-width="1" stroke-linejoin="round"/>
<polygon points="753.50,1239.10 785.50,1239.10 769.50,1265.00" fill="#000" stroke="#000" stroke-width="1" stroke-linejoin="round"/>
<polygon points="919.90,1172.10 951.90,1172.10 935.90,1198.00" fill="#000" stroke="#000" stroke-width="1" stroke-linejoin="round"/>
<polygon points="1044.70,1178.30 1076.70,1178.30 1060.70,1204.20" fill="#000" stroke="#000" stroke-width="1" stroke-linejoin="round"/>
<polygon points="1086.30,1252.10 1118.30,1252.10 1102.30,1278.00" fill="#000" stroke="#000" stroke-width="1" stroke-linejoin="round"/>
<polygon points="1294.30,1168.60 1326.30,1168.60 1310.30,1194.50" fill="#000" stroke="#000" stroke-width="1" stroke-linejoin="round"/>
<polygon points="1419.10,1174.80 1451.10,1174.80 1435.10,1200.70" fill="#000" stroke="#000" stroke-width="1" stroke-linejoin="round"/>
<polygon points="1585.50,1221.10 1617.50,1221.10 1601.50,1247.00" fill="#000" stroke="#000" stroke-width="1" stroke-linejoin="round"/>
<polyline points="603.10,1484.00 686.30,1441.00 769.50,1413.50 935.90,1268.00 1060.70,1308.60 1102.30,1487.20 1310.30,1403.00 1435.10,1421.30 1601.50,1514.40" fill="none" stroke="#000" stroke-width="3.0" stroke-linejoin="round"/>
<line x1="603.10" y1="1484.00" x2="603.10" y2="1414.70" stroke="#000" stroke-width="3.0" />
<line x1="589.10" y1="1414.70" x2="617.10" y2="1414.70" stroke="#000" stroke-width="3.0" />
<line x1="603.10" y1="1484.00" x2="603.10" y2="1553.30" stroke="#000" stroke-width="3.0" />
<line x1="589.10" y1="1553.30" x2="617.10" y2="1553.30" stroke="#000" stroke-width="3.0" />
<line x1="686.30" y1="1441.00" x2="686.30" y2="1352.50" stroke="#000" stroke-width="3.0" />
<line x1="672.30" y1="1352.50" x2="700.30" y2="1352.50" stroke="#000" stroke-width="3.0" />
<line x1="686.30" y1="1441.00" x2="686.30" y2="1529.50" stroke="#000" stroke-width="3.0" />
<line x1="672.30" y1="1529.50" x2="700.30" y2="1529.50" stroke="#000" stroke-width="3.0" />
<line x1="769.50" y1="1413.50" x2="769.50" y2="1343.80" stroke="#000" stroke-width="3.0" />
<line x1="755.50" y1="1343.80" x2="783.50" y2="1343.80" stroke="#000" stroke-width="3.0" />
<line x1="769.50" y1="1413.50" x2="769.50" y2="1483.20" stroke="#000" stroke-width="3.0" />
<line x1="755.50" y1="1483.20" x2="783.50" y2="1483.20" stroke="#000" stroke-width="3.0" />
<line x1="935.90" y1="1268.00" x2="935.90" y2="1235.20" stroke="#000" stroke-width="3.0" />
<line x1="921.90" y1="1235.20" x2="949.90" y2="1235.20" stroke="#000" stroke-width="3.0" />
<line x1="935.90" y1="1268.00" x2="935.90" y2="1300.80" stroke="#000" stroke-width="3.0" />
<line x1="921.90" y1="1300.80" x2="949.90" y2="1300.80" stroke="#000" stroke-width="3.0" />
<line x1="1060.70" y1="1308.60" x2="1060.70" y2="1279.60" stroke="#000" stroke-width="3.0" />
<line x1="1046.70" y1="1279.60" x2="1074.70" y2="1279.60" stroke="#000" stroke-width="3.0" />
<line x1="1060.70" y1="1308.60" x2="1060.70" y2="1337.60" stroke="#000" stroke-width="3.0" />
<line x1="1046.70" y1="1337.60" x2="1074.70" y2="1337.60" stroke="#000" stroke-width="3.0" />
<line x1="1102.30" y1="1487.20" x2="1102.30" y2="1465.20" stroke="#000" stroke-width="3.0" />
<line x1="1088.30" y1="1465.20" x2="1116.30" y2="1465.20" stroke="#000" stroke-width="3.0" />
<line x1="1102.30" y1="1487.20" x2="1102.30" y2="1509.20" stroke="#000" stroke-width="3.0" />
<line x1="1088.30" y1="1509.20" x2="1116.30" y2="1509.20" stroke="#000" stroke-width="3.0" />
<line x1="1310.30" y1="1403.00" x2="1310.30" y2="1379.80" stroke="#000" stroke-width="3.0" />
<line x1="1296.30" y1="1379.80" x2="1324.30" y2="1379.80" stroke="#000" stroke-width="3.0" />
<line x1="1310.30" y1="1403.00" x2="1310.30" y2="1426.20" stroke="#000" stroke-width="3.0" />
<line x1="1296.30" y1="1426.20" x2="1324.30" y2="1426.20" stroke="#000" stroke-width="3.0" />
<line x1="1435.10" y1="1421.30" x2="1435.10" y2="1388.60" stroke="#000" stroke-width="3.0" />
<line x1="1421.10" y1="1388.60" x2="1449.10" y2="1388.60" stroke="#000" stroke-width="3.0" />
<line x1="1435.10" y1="1421.30" x2="1435.10" y2="1454.00" stroke="#000" stroke-width="3.0" />
<line x1="1421.10" y1="1454.00" x2="1449.10" y2="1454.00" stroke="#000" stroke-width="3.0" />
<line x1="1601.50" y1="1514.40" x2="1601.50" y2="1484.30" stroke="#000" stroke-width="3.0" />
<line x1="1587.50" y1="1484.30" x2="1615.50" y2="1484.30" stroke="#000" stroke-width="3.0" />
<line x1="1601.50" y1="1514.40" x2="1601.50" y2="1544.50" stroke="#000" stroke-width="3.0" />
<line x1="1587.50" y1="1544.50" x2="1615.50" y2="1544.50" stroke="#000" stroke-width="3.0" />
<polygon points="589.90,1492.60 616.30,1492.60 603.10,1469.70" fill="#fff" stroke="#000" stroke-width="3.5999999999999996" stroke-linejoin="miter"/>
<polygon points="673.10,1449.60 699.50,1449.60 686.30,1426.70" fill="#fff" stroke="#000" stroke-width="3.5999999999999996" stroke-linejoin="miter"/>
<polygon points="756.30,1422.10 782.70,1422.10 769.50,1399.20" fill="#fff" stroke="#000" stroke-width="3.5999999999999996" stroke-linejoin="miter"/>
<polygon points="922.70,1276.60 949.10,1276.60 935.90,1253.70" fill="#fff" stroke="#000" stroke-width="3.5999999999999996" stroke-linejoin="miter"/>
<polygon points="1047.50,1317.20 1073.90,1317.20 1060.70,1294.30" fill="#fff" stroke="#000" stroke-width="3.5999999999999996" stroke-linejoin="miter"/>
<polygon points="1089.10,1495.80 1115.50,1495.80 1102.30,1472.90" fill="#fff" stroke="#000" stroke-width="3.5999999999999996" stroke-linejoin="miter"/>
<polygon points="1297.10,1411.60 1323.50,1411.60 1310.30,1388.70" fill="#fff" stroke="#000" stroke-width="3.5999999999999996" stroke-linejoin="miter"/>
<polygon points="1421.90,1429.90 1448.30,1429.90 1435.10,1407.00" fill="#fff" stroke="#000" stroke-width="3.5999999999999996" stroke-linejoin="miter"/>
<polygon points="1588.30,1523.00 1614.70,1523.00 1601.50,1500.10" fill="#fff" stroke="#000" stroke-width="3.5999999999999996" stroke-linejoin="miter"/>
<polyline points="603.10,1353.00 686.30,1339.50 769.50,1233.40 935.90,1198.40 1060.70,1181.40 1102.30,1248.50 1310.30,1179.50 1435.10,1230.10 1601.50,1250.50" fill="none" stroke="#000" stroke-width="3.0" stroke-linejoin="round"/>
<line x1="603.10" y1="1353.00" x2="603.10" y2="1291.50" stroke="#000" stroke-width="3.0" />
<line x1="589.10" y1="1291.50" x2="617.10" y2="1291.50" stroke="#000" stroke-width="3.0" />
<line x1="603.10" y1="1353.00" x2="603.10" y2="1414.50" stroke="#000" stroke-width="3.0" />
<line x1="589.10" y1="1414.50" x2="617.10" y2="1414.50" stroke="#000" stroke-width="3.0" />
<line x1="686.30" y1="1339.50" x2="686.30" y2="1284.50" stroke="#000" stroke-width="3.0" />
<line x1="672.30" y1="1284.50" x2="700.30" y2="1284.50" stroke="#000" stroke-width="3.0" />
<line x1="686.30" y1="1339.50" x2="686.30" y2="1394.50" stroke="#000" stroke-width="3.0" />
<line x1="672.30" y1="1394.50" x2="700.30" y2="1394.50" stroke="#000" stroke-width="3.0" />
<line x1="769.50" y1="1233.40" x2="769.50" y2="1185.00" stroke="#000" stroke-width="3.0" />
<line x1="755.50" y1="1185.00" x2="783.50" y2="1185.00" stroke="#000" stroke-width="3.0" />
<line x1="769.50" y1="1233.40" x2="769.50" y2="1281.80" stroke="#000" stroke-width="3.0" />
<line x1="755.50" y1="1281.80" x2="783.50" y2="1281.80" stroke="#000" stroke-width="3.0" />
<line x1="1060.70" y1="1181.40" x2="1060.70" y2="1148.90" stroke="#000" stroke-width="3.0" />
<line x1="1046.70" y1="1148.90" x2="1074.70" y2="1148.90" stroke="#000" stroke-width="3.0" />
<line x1="1060.70" y1="1181.40" x2="1060.70" y2="1213.90" stroke="#000" stroke-width="3.0" />
<line x1="1046.70" y1="1213.90" x2="1074.70" y2="1213.90" stroke="#000" stroke-width="3.0" />
<rect x="589.25" y="1338.60" width="27.70" height="28.80" fill="#000"/>
<rect x="672.45" y="1325.10" width="27.70" height="28.80" fill="#000"/>
<rect x="755.65" y="1219.00" width="27.70" height="28.80" fill="#000"/>
<rect x="922.05" y="1184.00" width="27.70" height="28.80" fill="#000"/>
<rect x="1046.85" y="1167.00" width="27.70" height="28.80" fill="#000"/>
<rect x="1088.45" y="1234.10" width="27.70" height="28.80" fill="#000"/>
<rect x="1296.45" y="1165.10" width="27.70" height="28.80" fill="#000"/>
<rect x="1421.25" y="1215.70" width="27.70" height="28.80" fill="#000"/>
<rect x="1587.65" y="1236.10" width="27.70" height="28.80" fill="#000"/>
<polyline points="603.10,1353.00 686.30,1320.40 769.50,1178.90 935.90,1075.80 1060.70,1190.30 1102.30,1274.50 1310.30,1214.00 1435.10,1256.00 1601.50,1242.50" fill="none" stroke="#000" stroke-width="3.0" stroke-linejoin="round"/>
<line x1="1435.10" y1="1256.00" x2="1435.10" y2="1207.60" stroke="#000" stroke-width="3.0" />
<line x1="1421.10" y1="1207.60" x2="1449.10" y2="1207.60" stroke="#000" stroke-width="3.0" />
<line x1="1435.10" y1="1256.00" x2="1435.10" y2="1304.40" stroke="#000" stroke-width="3.0" />
<line x1="1421.10" y1="1304.40" x2="1449.10" y2="1304.40" stroke="#000" stroke-width="3.0" />
<rect x="590.90" y="1340.90" width="24.40" height="24.20" fill="#fff" stroke="#000" stroke-width="3.3"/>
<rect x="674.10" y="1308.30" width="24.40" height="24.20" fill="#fff" stroke="#000" stroke-width="3.3"/>
<rect x="757.30" y="1166.80" width="24.40" height="24.20" fill="#fff" stroke="#000" stroke-width="3.3"/>
<rect x="923.70" y="1063.70" width="24.40" height="24.20" fill="#fff" stroke="#000" stroke-width="3.3"/>
<rect x="1048.50" y="1178.20" width="24.40" height="24.20" fill="#fff" stroke="#000" stroke-width="3.3"/>
<rect x="1090.10" y="1262.40" width="24.40" height="24.20" fill="#fff" stroke="#000" stroke-width="3.3"/>
<rect x="1298.10" y="1201.90" width="24.40" height="24.20" fill="#fff" stroke="#000" stroke-width="3.3"/>
<rect x="1422.90" y="1243.90" width="24.40" height="24.20" fill="#fff" stroke="#000" stroke-width="3.3"/>
<rect x="1589.30" y="1230.40" width="24.40" height="24.20" fill="#fff" stroke="#000" stroke-width="3.3"/>
<polyline points="603.10,1427.40 686.30,1441.00 769.50,1326.90 935.90,1237.40 1060.70,1284.30 1102.30,1342.70 1310.30,1359.30 1435.10,1435.70 1601.50,1419.40" fill="none" stroke="#000" stroke-width="3.0" stroke-linejoin="round"/>
<line x1="603.10" y1="1427.40" x2="603.10" y2="1415.00" stroke="#000" stroke-width="3.0" />
<line x1="589.10" y1="1415.00" x2="617.10" y2="1415.00" stroke="#000" stroke-width="3.0" />
<line x1="603.10" y1="1427.40" x2="603.10" y2="1439.80" stroke="#000" stroke-width="3.0" />
<line x1="589.10" y1="1439.80" x2="617.10" y2="1439.80" stroke="#000" stroke-width="3.0" />
<line x1="686.30" y1="1441.00" x2="686.30" y2="1425.70" stroke="#000" stroke-width="3.0" />
<line x1="672.30" y1="1425.70" x2="700.30" y2="1425.70" stroke="#000" stroke-width="3.0" />
<line x1="686.30" y1="1441.00" x2="686.30" y2="1456.30" stroke="#000" stroke-width="3.0" />
<line x1="672.30" y1="1456.30" x2="700.30" y2="1456.30" stroke="#000" stroke-width="3.0" />
<line x1="769.50" y1="1326.90" x2="769.50" y2="1310.70" stroke="#000" stroke-width="3.0" />
<line x1="755.50" y1="1310.70" x2="783.50" y2="1310.70" stroke="#000" stroke-width="3.0" />
<line x1="769.50" y1="1326.90" x2="769.50" y2="1343.10" stroke="#000" stroke-width="3.0" />
<line x1="755.50" y1="1343.10" x2="783.50" y2="1343.10" stroke="#000" stroke-width="3.0" />
<line x1="935.90" y1="1237.40" x2="935.90" y2="1224.90" stroke="#000" stroke-width="3.0" />
<line x1="921.90" y1="1224.90" x2="949.90" y2="1224.90" stroke="#000" stroke-width="3.0" />
<line x1="935.90" y1="1237.40" x2="935.90" y2="1249.90" stroke="#000" stroke-width="3.0" />
<line x1="921.90" y1="1249.90" x2="949.90" y2="1249.90" stroke="#000" stroke-width="3.0" />
<line x1="1102.30" y1="1342.70" x2="1102.30" y2="1331.00" stroke="#000" stroke-width="3.0" />
<line x1="1088.30" y1="1331.00" x2="1116.30" y2="1331.00" stroke="#000" stroke-width="3.0" />
<line x1="1102.30" y1="1342.70" x2="1102.30" y2="1354.40" stroke="#000" stroke-width="3.0" />
<line x1="1088.30" y1="1354.40" x2="1116.30" y2="1354.40" stroke="#000" stroke-width="3.0" />
<line x1="1310.30" y1="1359.30" x2="1310.30" y2="1342.90" stroke="#000" stroke-width="3.0" />
<line x1="1296.30" y1="1342.90" x2="1324.30" y2="1342.90" stroke="#000" stroke-width="3.0" />
<line x1="1310.30" y1="1359.30" x2="1310.30" y2="1375.70" stroke="#000" stroke-width="3.0" />
<line x1="1296.30" y1="1375.70" x2="1324.30" y2="1375.70" stroke="#000" stroke-width="3.0" />
<line x1="1435.10" y1="1435.70" x2="1435.10" y2="1424.90" stroke="#000" stroke-width="3.0" />
<line x1="1421.10" y1="1424.90" x2="1449.10" y2="1424.90" stroke="#000" stroke-width="3.0" />
<line x1="1435.10" y1="1435.70" x2="1435.10" y2="1446.50" stroke="#000" stroke-width="3.0" />
<line x1="1421.10" y1="1446.50" x2="1449.10" y2="1446.50" stroke="#000" stroke-width="3.0" />
<line x1="1601.50" y1="1419.40" x2="1601.50" y2="1407.40" stroke="#000" stroke-width="3.0" />
<line x1="1587.50" y1="1407.40" x2="1615.50" y2="1407.40" stroke="#000" stroke-width="3.0" />
<line x1="1601.50" y1="1419.40" x2="1601.50" y2="1431.40" stroke="#000" stroke-width="3.0" />
<line x1="1587.50" y1="1431.40" x2="1615.50" y2="1431.40" stroke="#000" stroke-width="3.0" />
<polygon points="584.35,1427.40 603.10,1408.90 621.85,1427.40 603.10,1445.90" fill="#000"/>
<polygon points="667.55,1441.00 686.30,1422.50 705.05,1441.00 686.30,1459.50" fill="#000"/>
<polygon points="750.75,1326.90 769.50,1308.40 788.25,1326.90 769.50,1345.40" fill="#000"/>
<polygon points="917.15,1237.40 935.90,1218.90 954.65,1237.40 935.90,1255.90" fill="#000"/>
<polygon points="1041.95,1284.30 1060.70,1265.80 1079.45,1284.30 1060.70,1302.80" fill="#000"/>
<polygon points="1083.55,1342.70 1102.30,1324.20 1121.05,1342.70 1102.30,1361.20" fill="#000"/>
<polygon points="1291.55,1359.30 1310.30,1340.80 1329.05,1359.30 1310.30,1377.80" fill="#000"/>
<polygon points="1416.35,1435.70 1435.10,1417.20 1453.85,1435.70 1435.10,1454.20" fill="#000"/>
<polygon points="1582.75,1419.40 1601.50,1400.90 1620.25,1419.40 1601.50,1437.90" fill="#000"/>
<line x1="685.5" y1="931" x2="685.5" y2="1734.5" stroke="#000" stroke-width="5" stroke-dasharray="49 16"/>
<line x1="1064.5" y1="931" x2="1064.5" y2="1734.5" stroke="#000" stroke-width="5" stroke-dasharray="49 16"/>
<text transform="translate(573.2 1231.7) scale(1.117 1)" font-size="59.5">ns</text>
<text transform="translate(645.6 1206) scale(1.117 1)" font-size="59.5">ns</text>
<text transform="translate(737.2 1126) scale(1.117 1)" font-size="59.5">ns</text>
<text transform="translate(915.6 1023.1)" font-size="42" letter-spacing="1.3" stroke="#000" stroke-width="0.7" stroke-linejoin="round">**</text>
<text transform="translate(1027.5 1108.7)" font-size="42" letter-spacing="1.3" stroke="#000" stroke-width="0.7" stroke-linejoin="round">***</text>
<text transform="translate(1090.3 1153.2)" font-size="42" letter-spacing="1.3" stroke="#000" stroke-width="0.7" stroke-linejoin="round">***</text>
<text transform="translate(1279.8 1115.8)" font-size="42" letter-spacing="1.3" stroke="#000" stroke-width="0.7" stroke-linejoin="round">***</text>
<text transform="translate(1413.3 1113.7)" font-size="42" letter-spacing="1.3" stroke="#000" stroke-width="0.7" stroke-linejoin="round">***</text>
<text transform="translate(1570.8 1153.2)" font-size="42" letter-spacing="1.3" stroke="#000" stroke-width="0.7" stroke-linejoin="round">***</text>
<text transform="translate(1597.8 1700.5) scale(1.008 1)" font-size="66.5">(b)</text>
<text transform="translate(435.7 1875.5) scale(0.985 1)" font-size="72.5" text-anchor="middle">20</text>
<text transform="translate(602.1 1875.5) scale(0.985 1)" font-size="72.5" text-anchor="middle">24</text>
<text transform="translate(768.5 1875.5) scale(0.985 1)" font-size="72.5" text-anchor="middle">28</text>
<text transform="translate(934.9 1875.5) scale(0.985 1)" font-size="72.5" text-anchor="middle">32</text>
<text transform="translate(1101.3 1875.5) scale(0.985 1)" font-size="72.5" text-anchor="middle">36</text>
<text transform="translate(1267.7 1875.5) scale(0.985 1)" font-size="72.5" text-anchor="middle">40</text>
<text transform="translate(1434.1 1875.5) scale(0.985 1)" font-size="72.5" text-anchor="middle">44</text>
<text transform="translate(1600.5 1875.5) scale(0.985 1)" font-size="72.5" text-anchor="middle">48</text>
<text transform="translate(1020 1993) scale(1.049 1)" font-size="71.5" text-anchor="middle">Days after sowing</text>
<text transform="translate(86.1 444.3) rotate(-90) scale(1.032 1)" font-size="68" text-anchor="middle">Leaf area (cm<tspan font-size="42" dy="-24">2</tspan><tspan dy="24">)</tspan></text>
<text transform="translate(104.5 1322.8) rotate(-90) scale(0.989 1)" font-size="71.5" text-anchor="middle">SPAD index (-)</text>
</svg>
</body></html>
